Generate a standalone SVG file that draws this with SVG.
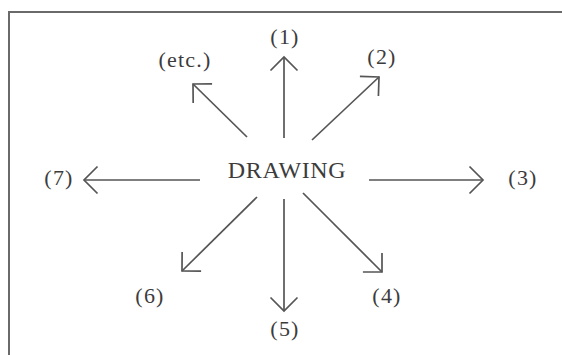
<svg xmlns="http://www.w3.org/2000/svg" width="562" height="355" viewBox="0 0 562 355">
<style>
.t{font-family:"Liberation Serif","Times New Roman",serif;fill:#3c3c3c;text-anchor:middle}
.lbl{font-size:22px;letter-spacing:1.2px}
.main{font-size:24px;letter-spacing:0.6px}
.c{stroke:#555;stroke-width:1.7;fill:none;marker-end:url(#ah)}
.frame{stroke:#6a6a6a;stroke-width:2;fill:none}
</style>
<defs>
<marker id="ah" markerUnits="userSpaceOnUse" viewBox="-16 -16 18 32" refX="0" refY="0" markerWidth="18" markerHeight="32" orient="auto" overflow="visible">
<path d="M-13.5,-13.5 L0,0 L-13.5,13.5" stroke="#555" stroke-width="1.7" fill="none"/>
</marker>
</defs>
<g id="frame">
<path class="frame" d="M9,355 V12 H562"/>
</g>
<g id="connectors">
<line class="c" x1="284" y1="138" x2="284" y2="57"/>
<line class="c" x1="247" y1="137" x2="193" y2="84"/>
<line class="c" x1="312" y1="140" x2="379" y2="77"/>
<line class="c" x1="369" y1="180" x2="483" y2="180"/>
<line class="c" x1="303" y1="193" x2="382" y2="272"/>
<line class="c" x1="284" y1="199" x2="284" y2="311"/>
<line class="c" x1="257" y1="197" x2="182" y2="271"/>
<line class="c" x1="200" y1="180" x2="84" y2="180"/>
</g>
<g id="drawing"><text class="t main" x="287" y="178">DRAWING</text></g>
<g id="n1"><text class="t lbl" x="285" y="44">(1)</text></g>
<g id="n2"><text class="t lbl" x="382" y="64">(2)</text></g>
<g id="n3"><text class="t lbl" x="523" y="185">(3)</text></g>
<g id="n4"><text class="t lbl" x="387" y="303">(4)</text></g>
<g id="n5"><text class="t lbl" x="285" y="336">(5)</text></g>
<g id="n6"><text class="t lbl" x="150" y="303">(6)</text></g>
<g id="n7"><text class="t lbl" x="59" y="185">(7)</text></g>
<g id="etc"><text class="t lbl" x="185" y="67">(etc.)</text></g>
</svg>
